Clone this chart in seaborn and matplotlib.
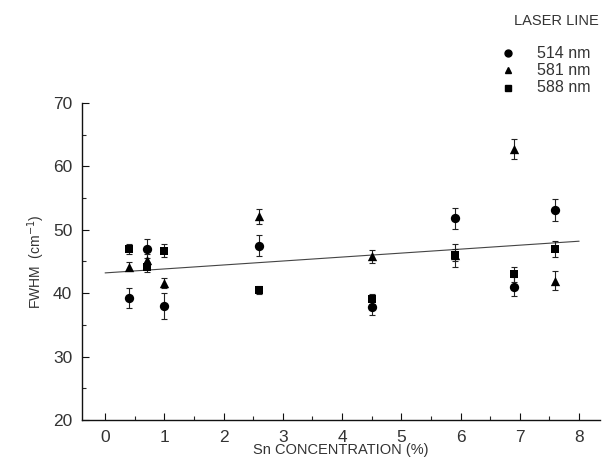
import matplotlib
matplotlib.use("Agg")
import matplotlib.pyplot as plt
from matplotlib.ticker import MultipleLocator
import seaborn as sns
import pandas as pd

# --- data ---
conc = [0.4, 0.7, 1.0, 2.6, 4.5, 5.9, 6.9, 7.6]
fwhm_514 = [39.2, 47.0, 38.0, 47.5, 37.9, 51.8, 41.0, 53.1]
err_514 = [1.6, 1.5, 2.1, 1.7, 1.3, 1.7, 1.5, 1.7]
fwhm_581 = [44.2, 45.3, 41.6, 52.1, 45.8, 46.0, 62.7, 42.0]
err_581 = [0.7, 0.9, 0.8, 1.2, 1.0, 1.0, 1.6, 1.5]
fwhm_588 = [47.0, 44.1, 46.7, 40.5, 39.1, 46.0, 43.0, 47.0]
err_588 = [0.8, 0.8, 1.0, 0.6, 0.8, 1.8, 1.2, 1.3]
fit_x = [0.0, 8.0]
fit_y = [43.2, 48.2]

series = ["514 nm", "581 nm", "588 nm"]
rows = []
for name, vals, errs in zip(series, [fwhm_514, fwhm_581, fwhm_588],
                            [err_514, err_581, err_588]):
    for c, v, e in zip(conc, vals, errs):
        rows.append({"conc": c, "fwhm": v, "err": e, "line": name})
df = pd.DataFrame(rows)

sns.set_theme(style="ticks")
plt.rcParams["font.family"] = ["Liberation Sans", "DejaVu Sans"]

TXT = "#333333"
fig = plt.figure(figsize=(6.05, 4.65), dpi=100)
ax = fig.add_axes([0.1355, 0.0968, 0.856, 0.6817])

# fit line
sns.lineplot(x=fit_x, y=fit_y, ax=ax, color="#444444", linewidth=0.8)

markers = {"514 nm": "o", "581 nm": "^", "588 nm": "s"}
sizes = {"514 nm": 45, "581 nm": 45, "588 nm": 36}
order = ["581 nm", "514 nm", "588 nm"]
for name in order:
    sub = df[df["line"] == name]
    ax.errorbar(sub["conc"], sub["fwhm"], yerr=sub["err"], fmt="none",
                ecolor="#222222", elinewidth=0.8, capsize=2.5, capthick=0.8,
                zorder=2)
    sns.scatterplot(data=sub, x="conc", y="fwhm", marker=markers[name],
                    s=sizes[name], color="black", edgecolor="black",
                    linewidth=0, ax=ax, zorder=3, legend=False)

ax.set_xlim(-0.39, 8.35)
ax.set_ylim(20, 70)
ax.xaxis.set_major_locator(MultipleLocator(1))
ax.xaxis.set_minor_locator(MultipleLocator(0.5))
ax.yaxis.set_major_locator(MultipleLocator(10))
ax.yaxis.set_minor_locator(MultipleLocator(5))
ax.tick_params(which="major", direction="in", length=5, width=0.8,
               labelsize=12.5, colors="#111111", labelcolor=TXT, pad=7)
ax.tick_params(which="minor", direction="in", length=3, width=0.8)
sns.despine(ax=ax)
for s in ["left", "bottom"]:
    ax.spines[s].set_linewidth(1.0)
    ax.spines[s].set_color("#111111")

ax.set_xlabel("Sn CONCENTRATION (%)", fontsize=10.5, color=TXT, labelpad=-1)
ax.set_ylabel("FWHM  (cm$^{-1}$)", fontsize=10, color=TXT, labelpad=4)

# legend as annotated markers
fig.text(0.99, 0.955, "LASER LINE", fontsize=10.5, color=TXT,
         ha="right", va="center")
leg_y = [0.886, 0.849, 0.811]
for name, yy in zip(series, leg_y):
    fig.lines.append(plt.Line2D([0.84], [yy], marker=markers[name], color="black",
                                markersize=5 if name != "588 nm" else 4.5,
                                linestyle="none", transform=fig.transFigure))
    fig.text(0.888, yy, name, fontsize=11.5, color=TXT, ha="left",
             va="center")

fig.savefig("out.png", dpi=100)
